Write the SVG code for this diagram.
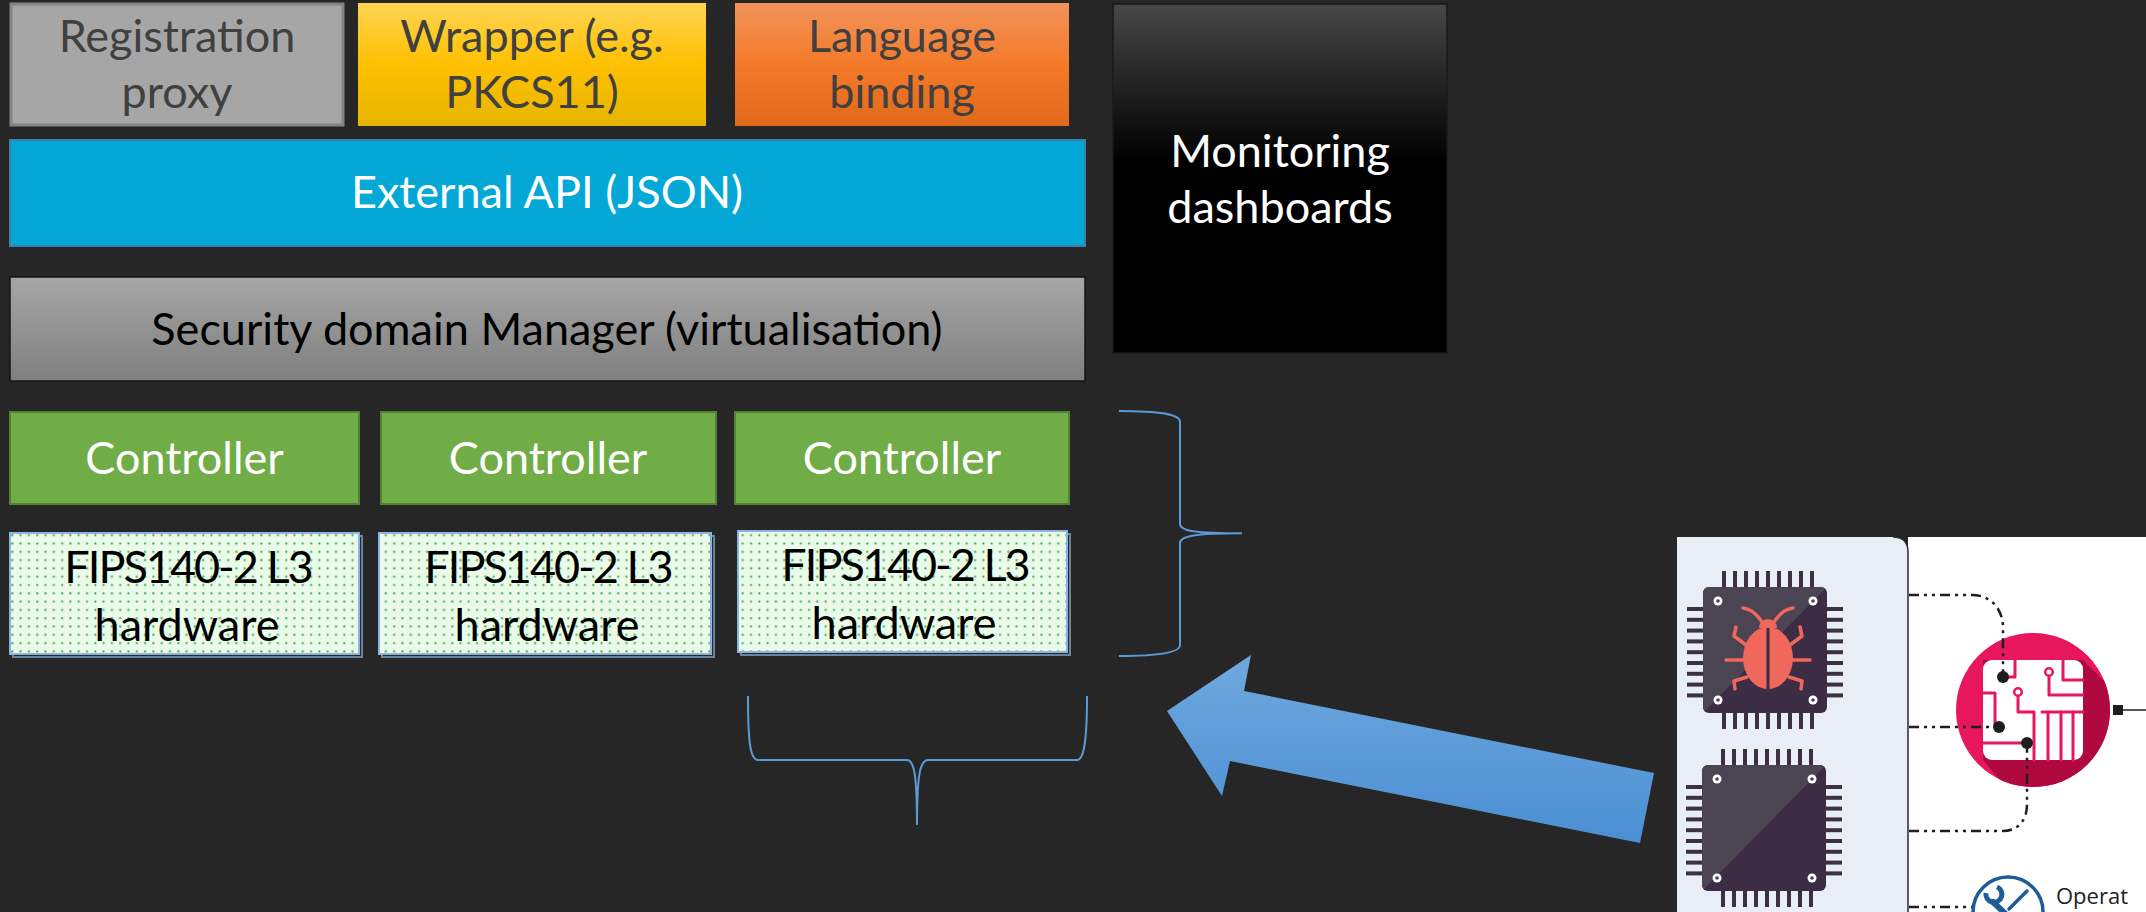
<svg xmlns="http://www.w3.org/2000/svg" width="2146" height="912" viewBox="0 0 2146 912">
  <defs>
    <style>
      .t { font-family: Lato, "Open Sans", sans-serif; font-size: 45px; text-anchor: middle; }
      .num { letter-spacing: -2px; }
      .dark { fill: #404040; }
      .white { fill: #ffffff; }
      .black { fill: #000000; }
      .ctrl { fill: #70ad47; stroke: #548235; stroke-width: 2; }
      .fips { fill: url(#dots); stroke: #8db3e2; stroke-width: 2; }
      .fipsShadow { fill: none; stroke: #6a84a0; stroke-width: 2; }
      .brace { fill: none; stroke: #5b9bd5; stroke-width: 2; }
      .pin { fill: #3b3142; }
      .screw { fill: #ffffff; }
      .screwIn { fill: #4a4150; }
      .dashdot { fill: none; stroke: #1e1e1e; stroke-width: 2.5; stroke-dasharray: 10 5 3 5 3 5; }
      .trace { fill: none; stroke: #e8175d; stroke-width: 3; stroke-linecap: round; stroke-linejoin: round; }
      .leg { fill: none; stroke: #f0685c; stroke-width: 3.5; stroke-linecap: round; stroke-linejoin: round; }
    </style>
    <linearGradient id="gWrap" x1="0" y1="0" x2="0" y2="1">
      <stop offset="0" stop-color="#ffd453"/>
      <stop offset="0.5" stop-color="#ffc000"/>
      <stop offset="1" stop-color="#e6b500"/>
    </linearGradient>
    <linearGradient id="gLang" x1="0" y1="0" x2="0" y2="1">
      <stop offset="0" stop-color="#f2935a"/>
      <stop offset="0.5" stop-color="#f47a2a"/>
      <stop offset="1" stop-color="#e2691b"/>
    </linearGradient>
    <linearGradient id="gSec" x1="0" y1="0" x2="0" y2="1">
      <stop offset="0" stop-color="#a6a6a6"/>
      <stop offset="1" stop-color="#7f7f7f"/>
    </linearGradient>
    <linearGradient id="gMon" x1="0" y1="0" x2="0" y2="1">
      <stop offset="0" stop-color="#474747"/>
      <stop offset="0.45" stop-color="#000000"/>
      <stop offset="1" stop-color="#000000"/>
    </linearGradient>
    <linearGradient id="gArrow" x1="0" y1="0" x2="0" y2="1">
      <stop offset="0" stop-color="#6fa8de"/>
      <stop offset="1" stop-color="#4a8fd3"/>
    </linearGradient>
    <pattern id="dots" width="8.3" height="8.3" patternUnits="userSpaceOnUse">
      <rect width="8.3" height="8.3" fill="#eafbea"/>
      <rect x="3" y="3" width="2" height="2" fill="#43a84f"/>
    </pattern>
    <clipPath id="circleClip">
      <circle cx="2033" cy="710" r="77"/>
    </clipPath>
    <g id="pinsH">
      <rect class="pin" x="0" y="0" width="4" height="16"/>
      <rect class="pin" x="11" y="0" width="4" height="16"/>
      <rect class="pin" x="22" y="0" width="4" height="16"/>
      <rect class="pin" x="33" y="0" width="4" height="16"/>
      <rect class="pin" x="44" y="0" width="4" height="16"/>
      <rect class="pin" x="55" y="0" width="4" height="16"/>
      <rect class="pin" x="66" y="0" width="4" height="16"/>
      <rect class="pin" x="77" y="0" width="4" height="16"/>
      <rect class="pin" x="88" y="0" width="4" height="16"/>
    </g>
    <g id="pinsV">
      <rect class="pin" x="0" y="0" width="16" height="4"/>
      <rect class="pin" x="0" y="10.8" width="16" height="4"/>
      <rect class="pin" x="0" y="21.6" width="16" height="4"/>
      <rect class="pin" x="0" y="32.4" width="16" height="4"/>
      <rect class="pin" x="0" y="43.2" width="16" height="4"/>
      <rect class="pin" x="0" y="54" width="16" height="4"/>
      <rect class="pin" x="0" y="64.8" width="16" height="4"/>
      <rect class="pin" x="0" y="75.6" width="16" height="4"/>
      <rect class="pin" x="0" y="86.4" width="16" height="4"/>
    </g>
    <clipPath id="chipBody">
      <rect x="0" y="0" width="124" height="126" rx="6"/>
    </clipPath>
    <g id="chip">
      <use href="#pinsH" x="19" y="-16"/>
      <use href="#pinsH" x="19" y="126"/>
      <use href="#pinsV" x="-16" y="20"/>
      <use href="#pinsV" x="124" y="20"/>
      <g clip-path="url(#chipBody)">
        <rect x="0" y="0" width="124" height="126" fill="#3c2d44"/>
        <polygon points="0,0 124,0 0,126" fill="#4b4452"/>
      </g>
      <circle class="screw" cx="15" cy="14" r="4.5"/>
      <circle class="screwIn" cx="15" cy="14" r="1.8"/>
      <circle class="screw" cx="110" cy="14" r="4.5"/>
      <circle class="screwIn" cx="110" cy="14" r="1.8"/>
      <circle class="screw" cx="15" cy="113" r="4.5"/>
      <circle class="screwIn" cx="15" cy="113" r="1.8"/>
      <circle class="screw" cx="110" cy="113" r="4.5"/>
      <circle class="screwIn" cx="110" cy="113" r="1.8"/>
    </g>
  </defs>

  <!-- background -->
  <rect x="0" y="0" width="2146" height="912" fill="#262626"/>

  <!-- top row: client-side components -->
  <g id="registration-proxy">
    <rect x="11" y="4" width="332" height="121" fill="#a6a6a6" stroke="#858585" stroke-width="3"/>
    <text class="t dark" x="177" y="52">Registration</text>
    <text class="t dark" x="177" y="108">proxy</text>
  </g>
  <g id="wrapper">
    <rect x="358" y="3" width="348" height="123" fill="url(#gWrap)"/>
    <text class="t dark" x="532" y="52">Wrapper (e.g.</text>
    <text class="t dark" x="532" y="108">PKCS11)</text>
  </g>
  <g id="language-binding">
    <rect x="735" y="3" width="334" height="123" fill="url(#gLang)"/>
    <text class="t dark" x="902" y="52">Language</text>
    <text class="t dark" x="902" y="108">binding</text>
  </g>

  <g id="external-api">
    <rect x="10" y="140" width="1075" height="106" fill="#03a8d7" stroke="#3d7fae" stroke-width="2"/>
    <text class="t white" x="547" y="208">External API (JSON)</text>
  </g>

  <g id="security-domain-manager">
    <rect x="10" y="277" width="1075" height="104" fill="url(#gSec)" stroke="#141414" stroke-width="1.5"/>
    <text class="t black" x="547" y="345">Security domain Manager (virtualisation)</text>
  </g>

  <g id="monitoring-dashboards">
    <rect x="1113" y="4" width="334" height="349" fill="url(#gMon)" stroke="#1a1a1a" stroke-width="1.5"/>
    <text class="t white" x="1280" y="167">Monitoring</text>
    <text class="t white" x="1280" y="223">dashboards</text>
  </g>

  <!-- controllers -->
  <g id="controller-1">
    <rect class="ctrl" x="10" y="412" width="349" height="92"/>
    <text class="t white" x="184.5" y="474">Controller</text>
  </g>
  <g id="controller-2">
    <rect class="ctrl" x="381" y="412" width="335" height="92"/>
    <text class="t white" x="548" y="474">Controller</text>
  </g>
  <g id="controller-3">
    <rect class="ctrl" x="735" y="412" width="334" height="92"/>
    <text class="t white" x="902" y="474">Controller</text>
  </g>

  <!-- hardware modules -->
  <g id="hardware-1">
    <rect class="fipsShadow" x="13" y="536" width="349" height="121"/>
    <rect class="fips" x="10" y="533" width="349" height="121"/>
    <text class="t black num" x="188" y="583">FIPS140-2 L3</text>
    <text class="t black" x="187" y="641">hardware</text>
  </g>
  <g id="hardware-2">
    <rect class="fipsShadow" x="382" y="536" width="332" height="121"/>
    <rect class="fips" x="379" y="533" width="332" height="121"/>
    <text class="t black num" x="548" y="583">FIPS140-2 L3</text>
    <text class="t black" x="547" y="641">hardware</text>
  </g>
  <g id="hardware-3">
    <rect class="fipsShadow" x="741" y="534" width="329" height="121"/>
    <rect class="fips" x="738" y="531" width="329" height="121"/>
    <text class="t black num" x="905" y="581">FIPS140-2 L3</text>
    <text class="t black" x="904" y="639">hardware</text>
  </g>

  <!-- braces and the big arrow -->
  <g id="connectors">
    <path class="brace" d="M1119,411 C1160,411 1180,414 1180,422 L1180,524 C1180,531 1195,533.3 1242,533.3 C1195,533.3 1180,536 1180,543 L1180,645 C1180,652 1160,656 1119,656"/>
    <path class="brace" d="M748,696 C748,740 750,760 758,760 L907,760 C914,760 917,775 917,825 C917,775 920,760 928,760 L1077,760 C1084,760 1087,740 1087,696"/>
    <polygon points="1167,711 1251,655 1244,691 1654,773 1640,843 1230,761 1222,796" fill="url(#gArrow)"/>
  </g>

  <!-- embedded hardware screenshot -->
  <g id="hardware-panel">
    <rect x="1908" y="537" width="238" height="375" fill="#ffffff"/>
    <path d="M1677,537 H1893 Q1908,537 1908,552 V912 H1677 Z" fill="#e9edf6"/>
    <path d="M1893,537 Q1908,537 1908,552 V912" fill="none" stroke="#2a2a2a" stroke-width="1.5"/>

    <g id="chip-bug">
      <use href="#chip" x="1703" y="587"/>
      <path class="leg" d="M1762,622 C1755,612 1750,609 1743,608"/>
      <path class="leg" d="M1774,622 C1781,612 1786,609 1793,608"/>
      <path class="leg" d="M1746,645 L1734,636 L1736,627"/>
      <path class="leg" d="M1744,660 L1726,660"/>
      <path class="leg" d="M1747,677 L1734,681 L1735,689"/>
      <path class="leg" d="M1790,645 L1802,636 L1800,627"/>
      <path class="leg" d="M1792,660 L1810,660"/>
      <path class="leg" d="M1789,677 L1802,681 L1801,689"/>
      <path d="M1759,628 A9,9 0 0 1 1777,628 Z" fill="#f0685c"/>
      <ellipse cx="1768" cy="658" rx="25" ry="31" fill="#f0685c"/>
      <line x1="1768" y1="628" x2="1768" y2="689" stroke="#3c2d44" stroke-width="3"/>
    </g>
    <g id="chip-plain">
      <use href="#chip" x="1702" y="765"/>
    </g>

    <g id="circuit-icon">
      <circle cx="2033" cy="710" r="77" fill="#e8175d"/>
      <polygon clip-path="url(#circleClip)" points="1983,660 2083,660 2200,777 2200,900 2100,900 1983,760" fill="#b0093f"/>
      <rect x="1983" y="660" width="100" height="100" rx="9" fill="#ffffff"/>
      <path class="trace" d="M2015,660 V677 H2003"/>
      <circle cx="2049" cy="672" r="3.8" fill="none" stroke="#e8175d" stroke-width="2.5"/>
      <path class="trace" d="M2049,676 V695 H2083"/>
      <path class="trace" d="M2063,660 V680 H2083"/>
      <circle cx="2018" cy="692" r="3.8" fill="none" stroke="#e8175d" stroke-width="2.5"/>
      <path class="trace" d="M2018,696 V712 H2034 V760"/>
      <path class="trace" d="M1983,693 H1995 V727"/>
      <path class="trace" d="M2042,712 H2083"/>
      <path class="trace" d="M2048,712 V760"/>
      <path class="trace" d="M2061,712 V760"/>
      <path class="trace" d="M2073,712 V760"/>
      <path class="trace" d="M1983,743 H2027"/>
    </g>

    <g id="links">
      <path class="dashdot" d="M1909,595 H1972 C1990,595 2003,608 2003,628 V677"/>
      <path class="dashdot" d="M1909,727 H1999"/>
      <path class="dashdot" d="M1909,831 H2003 C2018,831 2027,820 2027,805 V743"/>
      <path class="dashdot" d="M1909,907 H1972"/>
      <circle cx="2003" cy="677" r="6" fill="#1e1e1e"/>
      <circle cx="1999" cy="727" r="6" fill="#1e1e1e"/>
      <circle cx="2027" cy="743" r="6" fill="#1e1e1e"/>
      <rect x="2113" y="705" width="10" height="10" fill="#1e1e1e"/>
      <line x1="2123" y1="710" x2="2146" y2="710" stroke="#1e1e1e" stroke-width="1.5"/>
    </g>

    <g id="operations">
      <circle cx="2008" cy="912" r="35" fill="#ffffff" stroke="#1d5d96" stroke-width="3.5"/>
      <path d="M1993,902 L2012,920" stroke="#1d5d96" stroke-width="6" stroke-linecap="round"/>
      <path d="M1986,893 A8,8 0 1 0 1997,887" fill="none" stroke="#1d5d96" stroke-width="5"/>
      <path d="M2027,891 L2009,909" stroke="#1d5d96" stroke-width="3.5" stroke-linecap="round"/>
      <text x="2056" y="904" font-family="'Open Sans', sans-serif" font-size="22" fill="#222222">Operat</text>
    </g>
  </g>
</svg>
